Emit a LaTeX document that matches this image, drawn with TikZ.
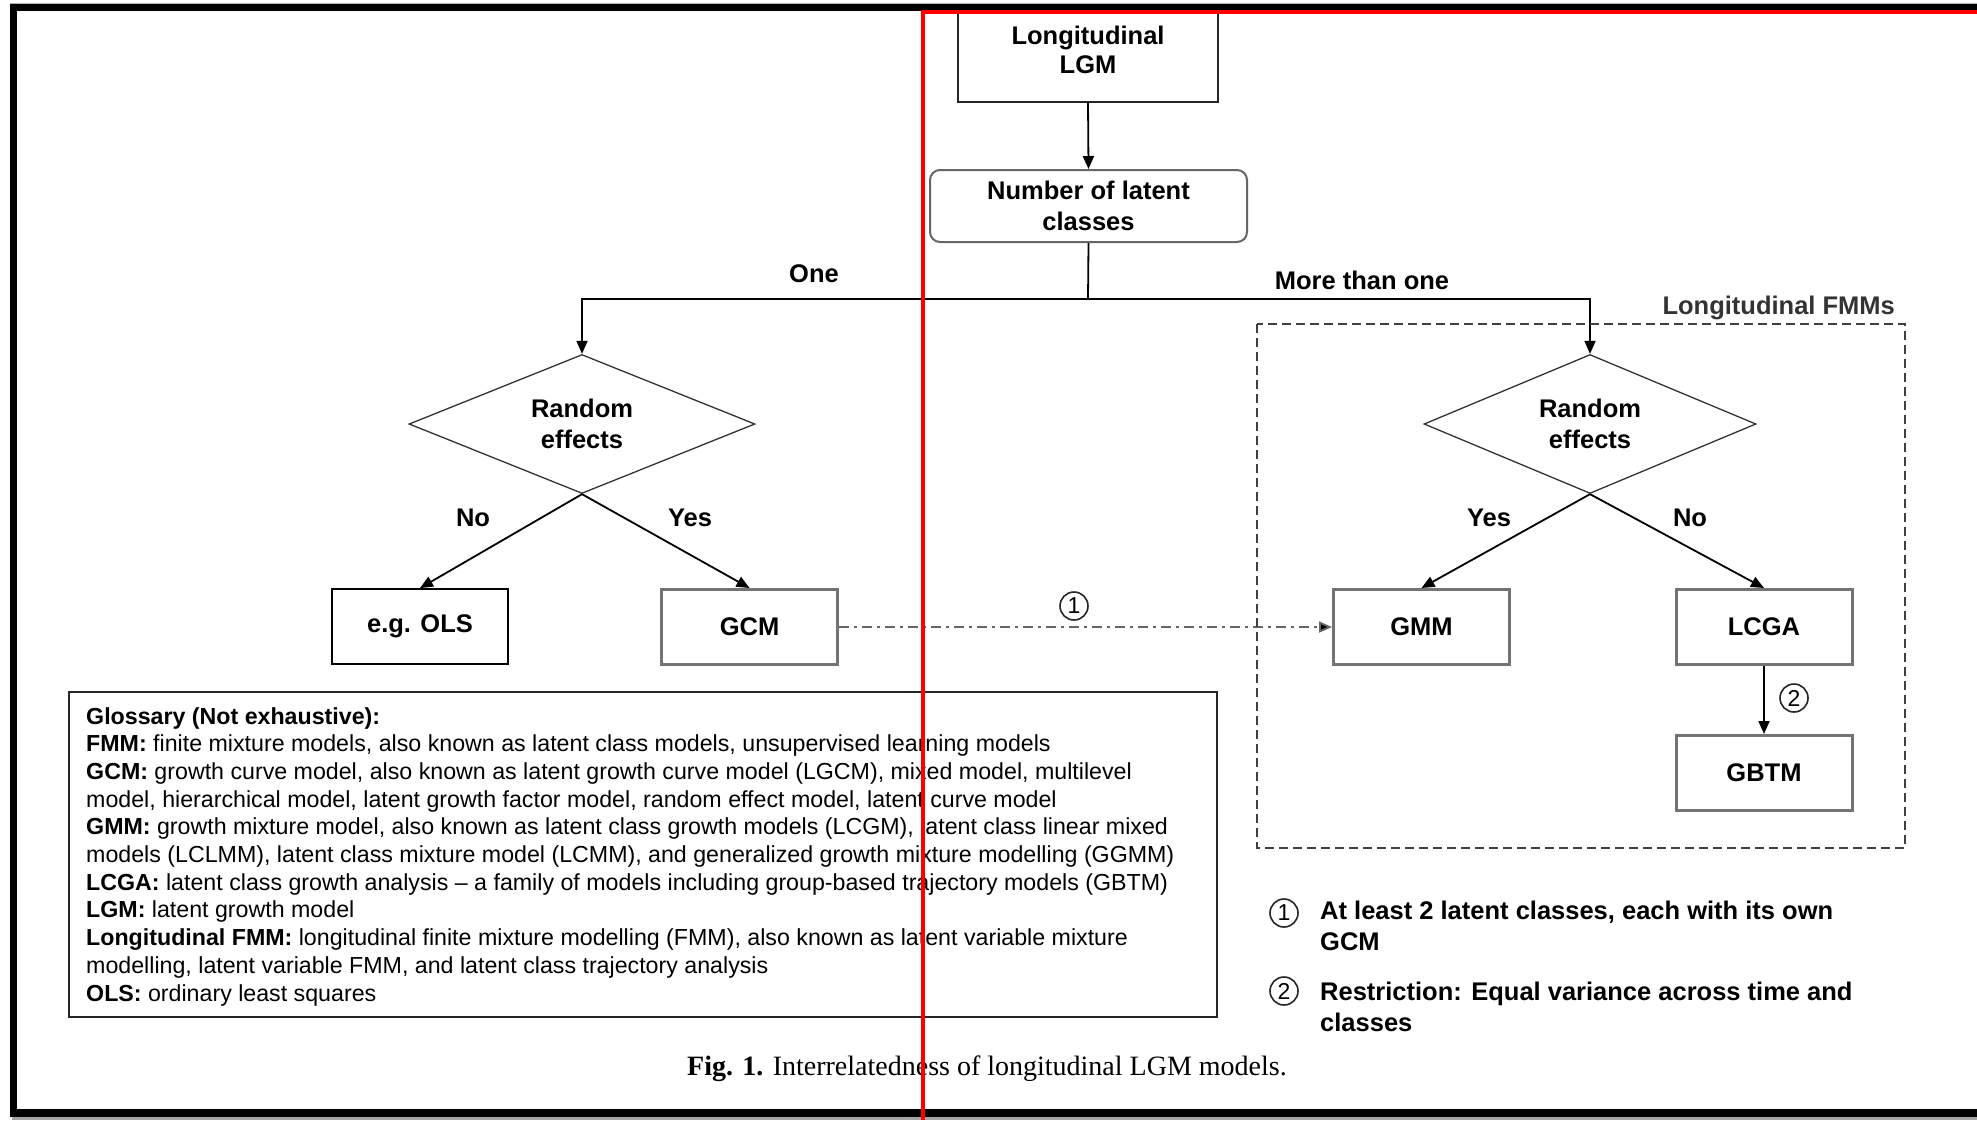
\documentclass[tikz,border=0pt]{standalone}
\usepackage{fontspec}
\setmainfont{Liberation Sans}
\newfontfamily\capfont{Liberation Serif}
\usetikzlibrary{shapes.geometric,arrows.meta,calc}
\newcommand\fsz[2]{\fontsize{#1}{#2}\selectfont}
\begin{document}
\begin{tikzpicture}[x=1pt,y=-1pt,
  box/.style={draw=black, line width=1.8pt, minimum width=176pt, minimum height=75pt, inner sep=0pt, font=\fsz{25.5}{29}\bfseries, align=center},
  gbox/.style={box, draw=black!55, line width=3pt},
  dia/.style={diamond, draw=black!80, line width=1.3pt, minimum width=346pt, minimum height=139pt, inner sep=0pt, aspect=2.5, align=center, font=\fsz{25.5}{31}\bfseries},
  arr/.style={line width=1.8pt, -{Triangle[length=13pt,width=11pt]}},
  lbl/.style={font=\fsz{25.5}{29}\bfseries, inner sep=0pt},
  circ/.style={circle, draw=black!85, line width=1.6pt, minimum size=28pt, inner sep=0pt, font=\fsz{23}{23}},
  legtext/.style={anchor=west, inner sep=0pt, align=left, font=\fsz{25.5}{31.5}\bfseries}
]
\useasboundingbox (0,0) rectangle (1977,1120);
\fill[white] (0,0) rectangle (1977,1120);

% top nodes
\node[box, minimum width=260pt, minimum height=97pt, draw=black!85] (lgm) at (1088,53.5) {};
\node[inner sep=0pt, align=center, font=\fsz{25.5}{29}\bfseries] (lgmt) at (1088,49.5) {Longitudinal\\LGM};
\node[box, rounded corners=10pt, draw=black!60, line width=2pt, minimum width=317pt, minimum height=72pt, font=\fsz{25.5}{31.5}\bfseries] (num) at (1088.5,206) {Number of latent\\classes};
\coordinate (j) at (1088,299);

% diamonds
\node[dia] (rl) at (582,424) {Random\\effects};
\node[dia, minimum width=332pt] (rr) at (1590,424) {Random\\effects};

% boxes
\node[box] (ols) at (420,626.5) {e.g. OLS};
\node[gbox] (gcm) at (749.5,627) {GCM};
\node[gbox] (gmm) at (1421.5,627) {GMM};
\node[gbox] (lcga) at (1764,627) {LCGA};
\node[gbox] (gbtm) at (1764,773) {GBTM};

% connectors
\draw[arr] (lgm.south) -- (num.north);
\draw[line width=1.8pt] (num.south) -- (j);
\draw[arr] (j) -| (rl.north);
\draw[arr] (j) -| (rr.north);
\draw[arr] (rl.south) -- (ols.north);
\draw[arr] (rl.south) -- (gcm.north);
\draw[arr] (rr.south) -- (gmm.north);
\draw[arr] (rr.south) -- (lcga.north);
\draw[arr] (lcga.south) -- (gbtm.north);
\draw[line width=1.8pt, draw=black!60, dash pattern=on 10pt off 5pt on 3pt off 5pt, -{Triangle[length=13pt,width=11pt,fill=black]}] (gcm.east) -- (gmm.west);

% labels
\node[lbl] (one) at (814,274) {One};
\node[lbl] (more) at (1362,280) {More than one};
\node[lbl] (nol) at (473,518) {No};
\node[lbl] (yesl) at (690,518) {Yes};
\node[lbl] (yesr) at (1489,518) {Yes};
\node[lbl] (nor) at (1690,518) {No};
\node[circ] (c1) at (1074,606) {1};
\node[circ] (c2) at (1794,698) {2};

% dashed group
\draw[draw=black!75, line width=1.5pt, dash pattern=on 9pt off 5pt] (1257,324) rectangle (1905,848);
\node[lbl, anchor=east, font=\fsz{25.5}{29}\bfseries\color{black!80}] (fmmlbl) at (1895,308) {Longitudinal FMMs};

% glossary
\draw[draw=black!85, line width=2pt] (69,692) rectangle (1217,1017);
\node[anchor=north west, inner sep=0pt, align=left, font=\fsz{23.2}{27.7}] (gtext) at (86,707) {%
\textbf{Glossary (Not exhaustive):}\\
\textbf{FMM:} finite mixture models, also known as latent class models, unsupervised learning models\\
\textbf{GCM:} growth curve model, also known as latent growth curve model (LGCM), mixed model, multilevel\\
model, hierarchical model, latent growth factor model, random effect model, latent curve model\\
\textbf{GMM:} growth mixture model, also known as latent class growth models (LCGM), latent class linear mixed\\
models (LCLMM), latent class mixture model (LCMM), and generalized growth mixture modelling (GGMM)\\
\textbf{LCGA:} latent class growth analysis – a family of models including group-based trajectory models (GBTM)\\
\textbf{LGM:} latent growth model\\
\textbf{Longitudinal FMM:} longitudinal finite mixture modelling (FMM), also known as latent variable mixture\\
modelling, latent variable FMM, and latent class trajectory analysis\\
\textbf{OLS:} ordinary least squares};

% legend
\node[circ] (lc1) at (1284,913) {1};
\node[legtext] (lt1) at (1320,926) {At least 2 latent classes, each with its own\\GCM};
\node[circ] (lc2) at (1284,991) {2};
\node[legtext] (lt2) at (1320,1007) {Restriction: Equal variance across time and\\classes};

% caption
\node[inner sep=0pt, font=\capfont\fsz{28}{30}] (cap) at (987,1069) {\textbf{Fig. 1.} Interrelatedness of longitudinal LGM models.};

% frame
\fill[black!30] (10,2.5) rectangle (1977,4);
\fill[black] (10,4) rectangle (1977,11);
\fill[black] (10,4) rectangle (17,1117);
\fill[black] (10,1109) rectangle (1977,1117);
\fill[black!35] (12,1117) rectangle (1977,1120);
\fill[red] (921,10) rectangle (1977,14);
\fill[red] (921,10) rectangle (925,1120);
\end{tikzpicture}
\end{document}
